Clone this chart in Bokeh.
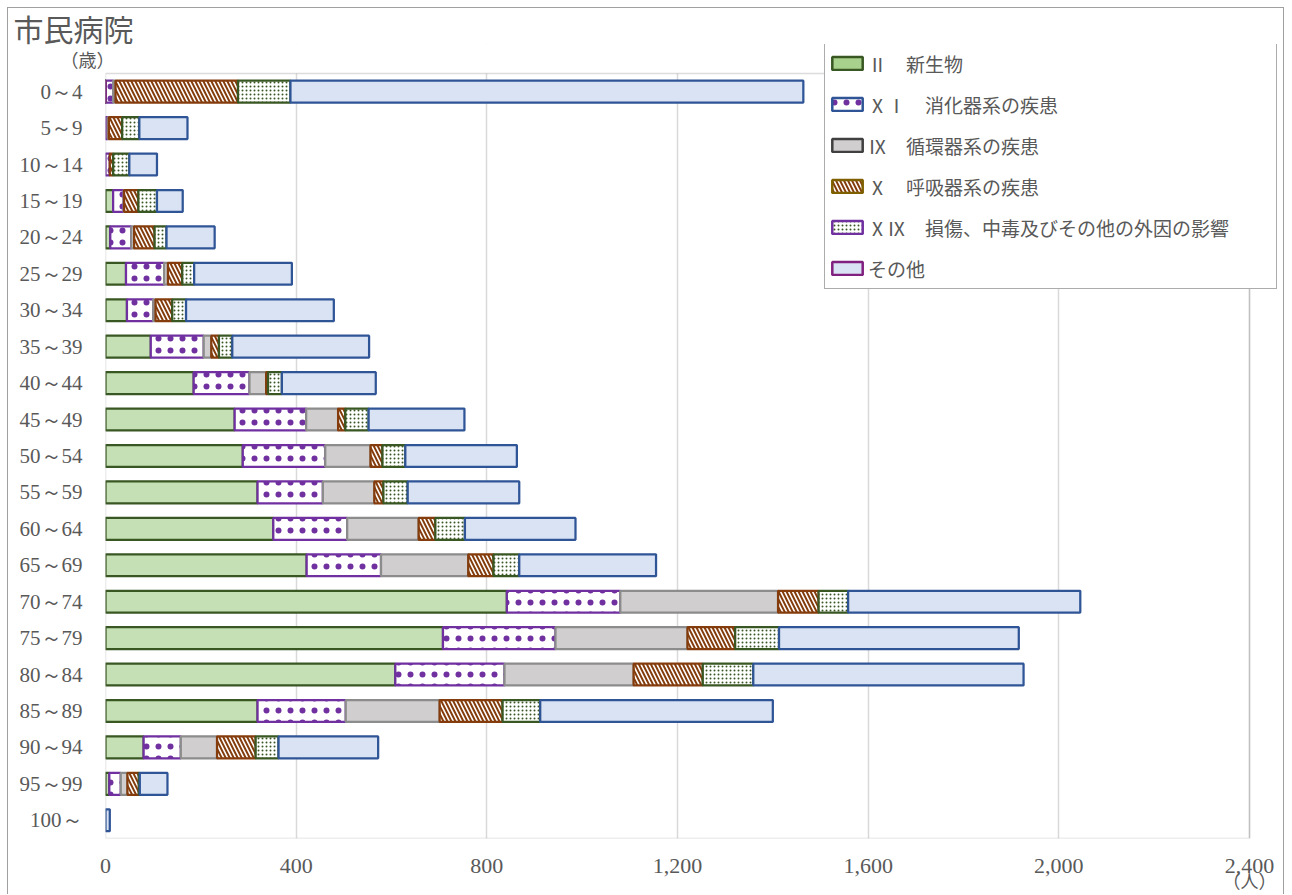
import numpy as np
from bokeh.plotting import figure
from bokeh.models import (ColumnDataSource, Legend, LegendItem, LinearAxis,
                          FixedTicker, NumeralTickFormatter, Range1d, BoxAnnotation)
from bokeh.embed import file_html
from bokeh.resources import INLINE

# ---------------- data ----------------
ages = ["0～4", "5～9", "10～14", "15～19", "20～24", "25～29", "30～34", "35～39",
        "40～44", "45～49", "50～54", "55～59", "60～64", "65～69", "70～74", "75～79",
        "80～84", "85～89", "90～94", "95～99", "100～"]

neoplasm    = [0, 0, 0, 16, 10, 43, 45, 95, 185, 271, 288, 319, 352, 422, 842, 708, 608, 319, 80, 8, 0]
digestive   = [16, 5, 9, 22, 44, 80, 55, 111, 117, 150, 173, 137, 155, 156, 238, 236, 229, 185, 78, 24, 0]
circulatory = [5, 2, 0, 1, 6, 8, 5, 16, 35, 67, 95, 108, 150, 183, 331, 277, 271, 197, 76, 14, 0]
respiratory = [257, 28, 7, 30, 43, 30, 35, 16, 4, 15, 25, 19, 35, 53, 85, 100, 145, 132, 81, 24, 0]
injury      = [110, 36, 34, 39, 25, 25, 29, 28, 29, 49, 48, 51, 62, 54, 62, 92, 106, 79, 48, 2, 0]
other       = [1076, 101, 58, 54, 101, 205, 310, 287, 197, 201, 234, 234, 232, 287, 487, 503, 567, 488, 209, 58, 9]

series_labels = ["Ⅱ　新生物", "ⅩⅠ　消化器系の疾患", "Ⅸ　循環器系の疾患",
                 "Ⅹ　呼吸器系の疾患", "ⅩⅨ　損傷、中毒及びその他の外因の影響", "その他"]
series_values = [neoplasm, digestive, circulatory, respiratory, injury, other]

x_ticks = [0, 400, 800, 1200, 1600, 2000, 2400]
title_text = "市民病院"
y_unit = "（歳）"
x_unit = "（人）"

# ---------------- styles ----------------
TXT = "#595959"
bar_styles = [
    dict(fill_color="#C5E0B4", line_color="#385723"),
    dict(fill_color="white", line_color="#7030A0", hatch_pattern="dot",
         hatch_color="#7030A0", hatch_scale=12, hatch_weight=1),
    dict(fill_color="#D0CECE", line_color="#8C8C8C"),
    dict(fill_color="white", line_color="#843C0C", hatch_pattern="left_diagonal_line",
         hatch_color="#843C0C", hatch_scale=8, hatch_weight=2),
    dict(fill_color="white", line_color="#385723", hatch_pattern="dot",
         hatch_color="#385723", hatch_scale=4, hatch_weight=1),
    dict(fill_color="#DAE3F3", line_color="#2F5597"),
]
legend_styles = [
    dict(fill_color="#A9D18E", line_color="#385723"),
    dict(fill_color="white", line_color="#2F5597", hatch_pattern="dot",
         hatch_color="#7030A0", hatch_scale=12, hatch_weight=1),
    dict(fill_color="#D0CECE", line_color="#404040"),
    dict(fill_color="white", line_color="#7F6000", hatch_pattern="left_diagonal_line",
         hatch_color="#843C0C", hatch_scale=8, hatch_weight=2),
    dict(fill_color="white", line_color="#7030A0", hatch_pattern="dot",
         hatch_color="#385723", hatch_scale=4, hatch_weight=1),
    dict(fill_color="#DAE3F3", line_color="#80207F"),
]

# ---------------- layout (page pixels) ----------------
n = len(ages)
ypos = np.arange(n)
X_MAX = x_ticks[-1]
PLOT_L, PLOT_R, PLOT_T, PLOT_B = 105, 1249, 71, 838   # plot area
FRAME_T, FRAME_R = 42, 1281                            # frame incl. legend room
row_px = (PLOT_B - PLOT_T) / n
top_extra = (PLOT_T - FRAME_T) / row_px
x_px = (PLOT_R - PLOT_L) / X_MAX
right_extra = (FRAME_R - PLOT_R) / x_px

p = figure(width=1277, height=887,
           x_range=Range1d(0, X_MAX + right_extra),
           y_range=Range1d(start=n - 0.5, end=-0.5 - top_extra),
           output_backend="svg", toolbar_location=None,
           min_border_left=PLOT_L - 8, min_border_right=8 + 1277 - FRAME_R,
           min_border_top=FRAME_T - 8, min_border_bottom=895 - PLOT_B)
p.styles = {"margin-left": "7px", "margin-top": "7px",
            "border-top": "1px solid #A0A0A0", "border-left": "1px solid #A0A0A0",
            "border-right": "1px solid #A0A0A0"}
p.outline_line_color = None

p.title.text = title_text
p.title.align = "left"
p.title.offset = -92
p.title.text_font = "Noto Sans CJK JP"
p.title.text_font_size = "30px"
p.title.text_font_style = "normal"
p.title.text_color = TXT
p.title.standoff = -10

p.ygrid.grid_line_color = None
p.xgrid.grid_line_color = "#D9D9D9"
p.xgrid.grid_line_width = 1.5

xa = p.xaxis[0]
ya = p.yaxis[0]
for ax in (xa, ya):
    ax.axis_line_color = None
    ax.major_tick_line_color = None
    ax.minor_tick_line_color = None
    ax.major_label_text_color = TXT
    ax.major_label_text_font = "Liberation Serif"

xa.ticker = FixedTicker(ticks=x_ticks)
xa.formatter = NumeralTickFormatter(format="0,0")
xa.major_label_text_font_size = "22px"
xa.major_label_standoff = 14

ya.ticker = FixedTicker(ticks=[int(i) for i in ypos])
ya.major_label_overrides = {int(i): a for i, a in zip(ypos, ages)}
ya.major_label_text_font_size = "21px"
ya.major_label_standoff = 17

unit_axis_style = dict(axis_line_color=None, major_tick_line_color=None,
                       minor_tick_line_color=None, major_label_text_color=TXT,
                       major_label_text_font="Noto Sans CJK JP",
                       major_label_text_font_size="18px")
# unit of the x axis, under its last tick
xu = LinearAxis(ticker=FixedTicker(ticks=[X_MAX]),
                major_label_overrides={X_MAX: x_unit},
                major_label_standoff=-15, **unit_axis_style)
p.add_layout(xu, "below")
# unit of the y axis, just above the first category
yu = LinearAxis(ticker=FixedTicker(ticks=[-0.9]),
                major_label_overrides={-0.9: y_unit},
                major_label_standoff=-104, **unit_axis_style)
p.add_layout(yu, "left")

# stacked bars
cum = np.zeros(n)
for vals, st in zip(series_values, bar_styles):
    vals = np.array(vals, dtype=float)
    mask = vals > 0
    src = ColumnDataSource(dict(y=ypos[mask], left=cum[mask], right=(cum + vals)[mask]))
    p.hbar(y="y", left="left", right="right", height=0.6, source=src,
           line_width=2.25, **st)
    cum = cum + vals

# white strip above the plot area, then the plot-area outline
p.add_layout(BoxAnnotation(bottom=-0.5, top=-0.5 - top_extra - 1, fill_color="white",
                           fill_alpha=1, line_color=None))
p.add_layout(BoxAnnotation(left=0, right=X_MAX, top=-0.5, bottom=n - 0.5, fill_alpha=0,
                           line_color="#8C8C8C", line_width=1.5))

# legend with its own swatches (proxies drawn off-range, never visible)
items = []
for lab, st in zip(series_labels, legend_styles):
    r = p.hbar(y=[0], left=[-200], right=[-100], height=0.6, line_width=2.5, **st)
    items.append(LegendItem(label=lab, renderers=[r]))

legend = Legend(items=items, location=(824 - PLOT_L, PLOT_B - 289),
                glyph_width=38, glyph_height=16, label_standoff=2,
                label_width=405, label_height=34, spacing=7, padding=3, margin=0,
                label_text_font="Noto Sans CJK JP", label_text_font_size="19px",
                label_text_color=TXT, border_line_color="#595959", border_line_width=1,
                background_fill_color="white", background_fill_alpha=1)
p.add_layout(legend)

open("out.html", "w").write(file_html(p, INLINE))
